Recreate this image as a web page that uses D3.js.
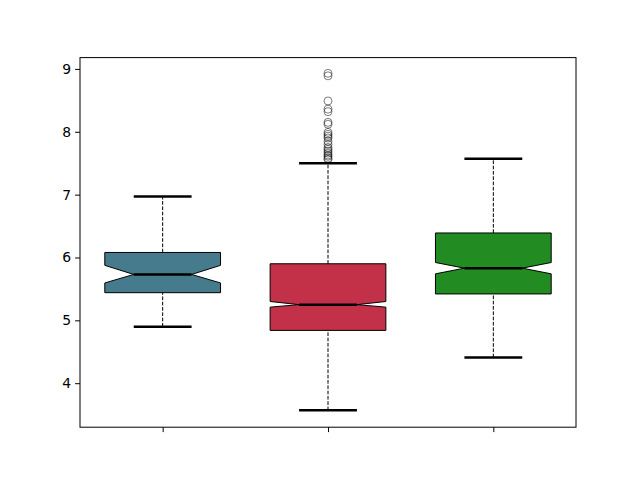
<!DOCTYPE html>
<html>
<head>
<meta charset="utf-8">
<script src="https://cdn.jsdelivr.net/npm/d3@7"></script>
<style>
  body { margin: 0; background: #fff; }
  text { font-family: "DejaVu Sans", sans-serif; }
</style>
</head>
<body>
<div id="chart"></div>
<script>
// box statistics
const groups = [1, 2, 3];
const colors = ["#457b8d", "#c33149", "#228b22"];
const whiskerLow = [4.90, 3.57, 4.41];
const q1 = [5.44, 4.84, 5.42];
const medians = [5.73, 5.25, 5.83];
const q3 = [6.08, 5.90, 6.39];
const whiskerHigh = [6.97, 7.50, 7.57];
const notchLow = [5.595, 5.21, 5.74];
const notchHigh = [5.875, 5.30, 5.92];
const outliers2 = [8.93, 8.89, 8.49, 8.36, 8.32, 8.15, 8.12, 7.99, 7.96, 7.93, 7.90,
  7.85, 7.80, 7.75, 7.72, 7.69, 7.66, 7.63, 7.61, 7.58, 7.56];
const yTicks = [4, 5, 6, 7, 8, 9];

const W = 640, H = 480;
const margin = { top: 57.6, right: 64, bottom: 52.8, left: 80 };
const width = W - margin.left - margin.right,
  height = H - margin.top - margin.bottom;

const svg = d3.select("#chart").append("svg")
  .attr("width", W).attr("height", H);

const g = svg.append("g")
  .attr("transform", `translate(${margin.left}, ${margin.top})`);

const x = d3.scaleLinear().domain([0.5, 3.5]).range([0, width]);
const y = d3.scaleLinear().domain([3.30, 9.18]).range([height, 0]);

const boxW = 0.7;
const boxes = groups.map((d, i) => ({
  pos: d, color: colors[i], lo: whiskerLow[i], q1: q1[i], med: medians[i],
  q3: q3[i], hi: whiskerHigh[i], nlo: notchLow[i], nhi: notchHigh[i]
}));

// whiskers (dashed)
boxes.forEach((b) => {
  [[b.lo, b.q1], [b.q3, b.hi]].forEach(([a, c]) => {
    g.append("line")
      .attr("x1", x(b.pos)).attr("x2", x(b.pos))
      .attr("y1", y(a)).attr("y2", y(c))
      .attr("stroke", "black").attr("stroke-width", 1)
      .attr("stroke-dasharray", "3.7,1.6");
  });
});

// notched boxes
g.selectAll("path.box")
  .data(boxes)
  .join("path")
  .attr("class", "box")
  .attr("d", (b) => {
    const l = x(b.pos - boxW / 2), r = x(b.pos + boxW / 2);
    const il = x(b.pos - boxW / 4), ir = x(b.pos + boxW / 4);
    return d3.line()([
      [l, y(b.q1)], [r, y(b.q1)], [r, y(b.nlo)], [ir, y(b.med)],
      [r, y(b.nhi)], [r, y(b.q3)], [l, y(b.q3)], [l, y(b.nhi)],
      [il, y(b.med)], [l, y(b.nlo)]
    ]) + "Z";
  })
  .attr("fill", (b) => b.color)
  .attr("stroke", "black")
  .attr("stroke-width", 1);

// medians
g.selectAll("line.median")
  .data(boxes)
  .join("line")
  .attr("class", "median")
  .attr("x1", (b) => x(b.pos - boxW / 4))
  .attr("x2", (b) => x(b.pos + boxW / 4))
  .attr("y1", (b) => y(b.med)).attr("y2", (b) => y(b.med))
  .attr("stroke", "black").attr("stroke-width", 2.5);

// caps
boxes.forEach((b) => {
  [b.lo, b.hi].forEach((v) => {
    g.append("line")
      .attr("x1", x(b.pos - boxW / 4)).attr("x2", x(b.pos + boxW / 4))
      .attr("y1", y(v)).attr("y2", y(v))
      .attr("stroke", "black").attr("stroke-width", 2.5);
  });
});

// fliers
g.selectAll("circle.flier")
  .data(outliers2)
  .join("circle")
  .attr("class", "flier")
  .attr("cx", x(2))
  .attr("cy", (d) => y(d))
  .attr("r", 4)
  .attr("fill", "none")
  .attr("stroke", "black")
  .attr("stroke-opacity", 0.5)
  .attr("stroke-width", 1);

// axes
const yAxis = g.append("g")
  .call(d3.axisLeft(y).tickValues(yTicks).tickSize(4.9).tickPadding(4).tickFormat(d3.format("d")));
yAxis.select(".domain").remove();
yAxis.selectAll("text").attr("font-size", 13.9).attr("fill", "black")
  .attr("font-family", "DejaVu Sans");

const xAxis = g.append("g")
  .attr("transform", `translate(0, ${height})`)
  .call(d3.axisBottom(x).tickValues(groups).tickSize(4.9).tickFormat(""));
xAxis.select(".domain").remove();

g.append("rect")
  .attr("width", width).attr("height", height)
  .attr("fill", "none").attr("stroke", "black").attr("stroke-width", 1);
</script>
</body>
</html>
